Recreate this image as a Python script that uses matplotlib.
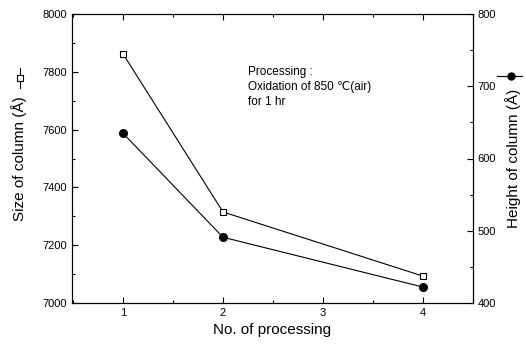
import matplotlib
matplotlib.use('Agg')
import matplotlib.pyplot as plt
from matplotlib.ticker import MultipleLocator
from matplotlib.lines import Line2D

plt.rcParams['font.family'] = ['Liberation Sans', 'DejaVu Sans']

processing = [1, 2, 4]
columnSize = [7862, 7315, 7093]
columnHeight = [635, 491, 422]

fig = plt.figure(figsize=(5.26, 3.47), dpi=100)
ax = fig.add_axes([72 / 526, 1 - 303 / 347, 401 / 526, 289 / 347])
ax2 = ax.twinx()

ax.plot(processing, columnSize, color='black', lw=0.8, marker='s', markersize=5,
        markerfacecolor='white', markeredgecolor='black', markeredgewidth=0.8)
ax2.plot(processing, columnHeight, color='black', lw=0.8, marker='o', markersize=5.5,
         markerfacecolor='black', markeredgecolor='black')

ax.set_xlim(0.49, 4.5)
ax.set_ylim(7000, 8000)
ax2.set_ylim(400, 800)

ax.set_xticks([1, 2, 3, 4])
ax.xaxis.set_minor_locator(MultipleLocator(0.5))
ax.yaxis.set_major_locator(MultipleLocator(200))
ax.yaxis.set_minor_locator(MultipleLocator(100))
ax2.yaxis.set_major_locator(MultipleLocator(100))
ax2.yaxis.set_minor_locator(MultipleLocator(50))

ax.tick_params(which='both', direction='in', top=True, labelsize=8, width=0.8)
ax.tick_params(which='major', length=4)
ax.tick_params(which='minor', length=2)
ax2.tick_params(which='both', direction='in', labelsize=8, width=0.8)
ax2.tick_params(which='major', length=4)
ax2.tick_params(which='minor', length=2)

ax.set_xlabel('No. of processing', fontsize=11)
ax.set_ylabel('Size of column (Å)', fontsize=11, labelpad=11)
ax2.set_ylabel('Height of column (Å)', fontsize=11, labelpad=6)

# little marker keys next to the axis titles
fig.add_artist(Line2D([20 / 526, 20 / 526], [1 - 68 / 347, 1 - 88 / 347], color='black', lw=0.8))
fig.add_artist(Line2D([20 / 526], [1 - 78 / 347], marker='s', markersize=4.5,
                      markerfacecolor='white', markeredgecolor='black', markeredgewidth=0.8))
fig.add_artist(Line2D([497 / 526, 522 / 526], [1 - 76 / 347, 1 - 76 / 347], color='black', lw=0.8))
fig.add_artist(Line2D([511 / 526], [1 - 76 / 347], marker='o', markersize=5,
                      markerfacecolor='black', markeredgecolor='black'))

ax.text(0.44, 0.747, 'Processing :\nOxidation of 850 \u2103(air)\nfor 1 hr',
        transform=ax.transAxes, fontsize=8.5, va='center', ha='left', linespacing=1.35)

for spine in ax.spines.values():
    spine.set_linewidth(0.8)

fig.savefig('out.png', dpi=100)
